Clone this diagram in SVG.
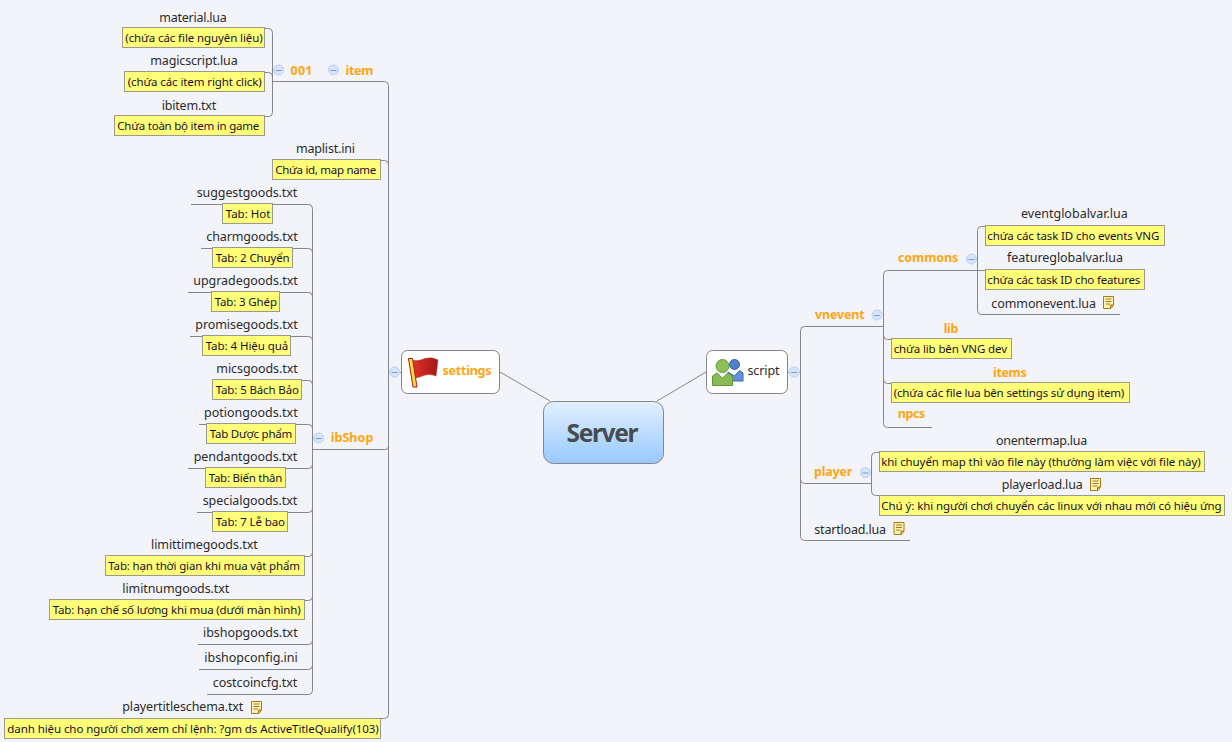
<svg xmlns="http://www.w3.org/2000/svg" width="1232" height="742" viewBox="0 0 1232 742">
<style>
text{font-family:"Noto Sans","Open Sans","Liberation Sans",sans-serif}
.l{font-size:12.500px;fill:#2b2b2b}
.o{font-size:12.500px;font-weight:700;fill:#ffa50f}
.n{font-size:11.500px;fill:#1a1030}
.b{fill:#ffff77;stroke:#9a9a8e;stroke-width:1}
.c{fill:none;stroke:#85858a;stroke-width:1}
.t{fill:#fff;stroke:#85858a;stroke-width:1}
</style>
<defs>
<linearGradient id="sg" x1="0" y1="0" x2="0" y2="1"><stop offset="0" stop-color="#e2f0ff"/><stop offset="1" stop-color="#97c9ff"/></linearGradient>
<linearGradient id="fl" x1="0" y1="0" x2="1" y2="0"><stop offset="0" stop-color="#e8382a"/><stop offset=".6" stop-color="#c02220"/><stop offset="1" stop-color="#a01a18"/></linearGradient>
<g id="cc"><circle r="5" fill="#d5e3fb" stroke="#bcd0f2"/><path d="M-3 .5H3" stroke="#7f9ccc" stroke-width="1"/></g>
<g id="doc"><path d="M.5 .5H10.500V9L8 12.500H.5Z" fill="#fff3b8" stroke="#a87a14"/><path d="M2.500 3H8.500M2.500 5.500H8.500M2.500 8H7" stroke="#a87a14"/><path d="M7.500 12.500V9H10.500" fill="#d8b040" stroke="#a87a14"/></g>
</defs>
<rect width="1232" height="742" fill="#f3f4fa"/>

<g id="connectors">
<path class="c" d="M500 372L550 401M706 372L657 401"/>
<path class="c" d="M273 81.500H384.500Q388.500 81.500 388.500 85.500V714.500Q388.500 718.500 384.500 718.500H380"/>
<path class="c" d="M380 160.500H384.500Q388.500 160.500 388.500 164.500"/>
<path class="c" d="M313 449.500H385.500Q388.500 449.500 388.500 446.500"/>
<path class="c" d="M388.500 372.500H401"/>
<path class="c" d="M264 28.500H268.500Q272.500 28.500 272.500 32.500V112.500Q272.500 116.500 268.500 116.500H264"/>
<path class="c" d="M264 72.500H268.500Q272.500 72.500 272.500 76.500"/>
<path class="c" d="M191 204.500H308.500Q312.500 204.500 312.500 208.500V690.500Q312.500 694.500 308.500 694.500H207"/>
<path class="c" d="M201 248.500H308.500Q312.500 248.500 312.500 252.500"/>
<path class="c" d="M188 292.500H308.500Q312.500 292.500 312.500 296.500"/>
<path class="c" d="M190 336.500H308.500Q312.500 336.500 312.500 340.500"/>
<path class="c" d="M213 380.500H308.500Q312.500 380.500 312.500 384.500"/>
<path class="c" d="M199 424.500H308.500Q312.500 424.500 312.500 428.500"/>
<path class="c" d="M188 468.500H308.500Q312.500 468.500 312.500 464.500"/>
<path class="c" d="M197 512.500H308.500Q312.500 512.500 312.500 508.500"/>
<path class="c" d="M300 556.500H308.500Q312.500 556.500 312.500 552.500"/>
<path class="c" d="M300 600.500H308.500Q312.500 600.500 312.500 596.500"/>
<path class="c" d="M198 644.500H308.500Q312.500 644.500 312.500 640.500"/>
<path class="c" d="M199 669.500H308.500Q312.500 669.500 312.500 665.500"/>
<path class="c" d="M788 372.500H800.500"/>
<path class="c" d="M883.500 326.500H804.500Q800.500 326.500 800.500 330.500V536.500Q800.500 540.500 804.500 540.500H910"/>
<path class="c" d="M800.500 479.500Q800.500 483.500 804.500 483.500H871.500"/>
<path class="c" d="M879.500 452.500H875.500Q871.500 452.500 871.500 456.500V491.500Q871.500 495.500 875.500 495.500H880"/>
<path class="c" d="M977.500 270.500H887.500Q883.500 270.500 883.500 274.500V423.500Q883.500 427.500 887.500 427.500H932"/>
<path class="c" d="M883.500 335.500Q883.500 339.500 887.500 339.500H892"/>
<path class="c" d="M883.500 379.500Q883.500 383.500 887.500 383.500H892"/>
<path class="c" d="M985.500 226.500H981.500Q977.500 226.500 977.500 230.500V310.500Q977.500 314.500 981.500 314.500H1120"/>
<path class="c" d="M977.500 270.500H986"/>
</g>

<g id="server"><rect x="543.500" y="401.500" width="120" height="62" rx="10" fill="url(#sg)" stroke="#85858a"/><text x="566.500" y="442" font-size="24.500" font-weight="700" fill="#484c50" textLength="72">Server</text></g>

<g id="settings"><rect class="t" x="401.500" y="350.500" width="98" height="43" rx="6"/><use href="#cc" x="394.500" y="372"/>
<path d="M409 359Q417 362.500 425 358.500Q432 356.500 438 360L436 376Q428 373 421 376.500Q416 379 412 377Z" fill="url(#fl)" stroke="#b03a38" stroke-width=".6"/>
<path d="M408.500 358.500L413 387H417L412.500 358.500Z" fill="#ffd83a" stroke="#a51f1a" stroke-width="1"/>
<text class="o" x="442.500" y="375" textLength="49">settings</text></g>

<g id="script"><rect class="t" x="706.500" y="350.500" width="81" height="43" rx="6"/><use href="#cc" x="794" y="372"/>
<circle cx="734.500" cy="364.500" r="5" fill="#4f7fc8" stroke="#3a62a8"/><path d="M728 372L734.500 376L739.500 370.500L743 373V381H728Z" fill="#5f92d8" stroke="#3f6ab0"/>
<circle cx="722.500" cy="366" r="6.500" fill="#8ec05a" stroke="#62993a"/><path d="M712.500 376L717 373L722.500 378L728 373L732.500 376V385.500H712.500Z" fill="#88bb58" stroke="#5f9638"/>
<text class="l" x="747.500" y="375" textLength="32">script</text></g>

<g id="item"><use href="#cc" x="333.500" y="70"/><text class="o" x="345.500" y="75" textLength="28">item</text></g>
<g id="n001"><use href="#cc" x="278.500" y="70"/><text class="o" x="290.500" y="75" textLength="22">001</text></g>
<g id="material"><text class="l" x="159.300" y="22" textLength="67.400">material.lua</text><rect class="b" x="122.500" y="27.500" width="142" height="20"/><text class="n" x="125.300" y="42" textLength="137.400">(chứa các file nguyên liệu)</text></g>
<g id="magicscript"><text class="l" x="150.300" y="65" textLength="87.400">magicscript.lua</text><rect class="b" x="124.500" y="71.500" width="140" height="20"/><text class="n" x="127.700" y="86" textLength="134">(chứa các item right click)</text></g>
<g id="ibitem"><text class="l" x="161.700" y="110" textLength="54.600">ibitem.txt</text><rect class="b" x="114.500" y="115.500" width="150" height="20"/><text class="n" x="117.300" y="130" textLength="142">Chứa toàn bộ item in game</text></g>
<g id="maplist"><text class="l" x="296" y="153" textLength="59">maplist.ini</text><rect class="b" x="272.500" y="159.500" width="108" height="20"/><text class="n" x="275.300" y="174" textLength="101">Chứa id, map name</text></g>

<g id="ibshop"><use href="#cc" x="318.500" y="438"/><text class="o" x="330.700" y="442" textLength="42.600">ibShop</text></g>
<g id="suggest"><text class="l" x="196.700" y="197" textLength="100.600">suggestgoods.txt</text><rect class="b" x="222.500" y="203.500" width="50" height="20"/><text class="n" x="225.700" y="218" textLength="44.600">Tab: Hot</text></g>
<g id="charm"><text class="l" x="206.300" y="241" textLength="91.400">charmgoods.txt</text><rect class="b" x="212.500" y="247.500" width="80" height="20"/><text class="n" x="215.700" y="262" textLength="74">Tab: 2 Chuyển</text></g>
<g id="upgrade"><text class="l" x="193.300" y="285" textLength="104.400">upgradegoods.txt</text><rect class="b" x="211.500" y="291.500" width="68" height="20"/><text class="n" x="214.700" y="306" textLength="62.300">Tab: 3 Ghép</text></g>
<g id="promise"><text class="l" x="195.300" y="329" textLength="102.400">promisegoods.txt</text><rect class="b" x="202.500" y="335.500" width="88" height="20"/><text class="n" x="205.700" y="350" textLength="82.600">Tab: 4 Hiệu quả</text></g>
<g id="mics"><text class="l" x="216.300" y="373" textLength="81.400">micsgoods.txt</text><rect class="b" x="212.500" y="379.500" width="89" height="20"/><text class="n" x="215.700" y="394" textLength="83.300">Tab: 5 Bách Bảo</text></g>
<g id="potion"><text class="l" x="204" y="417" textLength="93.700">potiongoods.txt</text><rect class="b" x="206.500" y="423.500" width="89" height="20"/><text class="n" x="209.700" y="438" textLength="82.600">Tab Dược phẩm</text></g>
<g id="pendant"><text class="l" x="193.700" y="461" textLength="103.600">pendantgoods.txt</text><rect class="b" x="205.500" y="467.500" width="80" height="20"/><text class="n" x="208.700" y="482" textLength="73.600">Tab: Biến thân</text></g>
<g id="special"><text class="l" x="202.700" y="505" textLength="94.600">specialgoods.txt</text><rect class="b" x="212.500" y="511.500" width="75" height="20"/><text class="n" x="215.700" y="526" textLength="69.300">Tab: 7 Lễ bao</text></g>
<g id="limittime"><text class="l" x="151" y="549" textLength="106.700">limittimegoods.txt</text><rect class="b" x="105.500" y="555.500" width="199" height="20"/><text class="n" x="108.300" y="570" textLength="191.700">Tab: hạn thời gian khi mua vật phẩm</text></g>
<g id="limitnum"><text class="l" x="122.300" y="593" textLength="107">limitnumgoods.txt</text><rect class="b" x="49.500" y="599.500" width="255" height="20"/><text class="n" x="52.700" y="614" textLength="248">Tab: hạn chế số lương khi mua (dưới màn hình)</text></g>
<g id="ibshopgoods"><text class="l" x="203" y="637" textLength="94.700">ibshopgoods.txt</text></g>
<g id="ibshopconfig"><text class="l" x="204.300" y="662" textLength="93.400">ibshopconfig.ini</text></g>
<g id="costcoincfg"><text class="l" x="212.700" y="687" textLength="84.600">costcoincfg.txt</text></g>
<g id="playertitle"><text class="l" x="122.300" y="711" textLength="121">playertitleschema.txt</text><use href="#doc" x="251" y="701"/><rect class="b" x="4.500" y="718.500" width="376" height="20"/><text class="n" x="7.300" y="733" textLength="371.400">danh hiệu cho người chơi xem chỉ lệnh: ?gm ds ActiveTitleQualify(103)</text></g>

<g id="vnevent"><text class="o" x="815" y="319" textLength="49.700">vnevent</text><use href="#cc" x="877" y="315"/></g>
<g id="commons"><text class="o" x="898" y="262" textLength="60.300">commons</text><use href="#cc" x="971.500" y="259"/></g>
<g id="eventglobalvar"><text class="l" x="1021" y="218" textLength="106.700">eventglobalvar.lua</text><rect class="b" x="985.500" y="225.500" width="179" height="20"/><text class="n" x="987.300" y="240" textLength="172">chứa các task ID cho events VNG</text></g>
<g id="featureglobalvar"><text class="l" x="1007" y="262" textLength="116">featureglobalvar.lua</text><rect class="b" x="985.500" y="269.500" width="159" height="20"/><text class="n" x="987.300" y="284" textLength="153">chứa các task ID cho features</text></g>
<g id="commonevent"><text class="l" x="991.300" y="308" textLength="104.700">commonevent.lua</text><use href="#doc" x="1103" y="296"/></g>
<g id="lib"><text class="o" x="943.700" y="333" textLength="14.600">lib</text><rect class="b" x="891.500" y="338.500" width="120" height="20"/><text class="n" x="893.700" y="353" textLength="113.300">chứa lib bên VNG dev</text></g>
<g id="items"><text class="o" x="993" y="377" textLength="33.700">items</text><rect class="b" x="891.500" y="382.500" width="238" height="20"/><text class="n" x="893.700" y="397" textLength="230.600">(chứa các file lua bên settings sử dụng item)</text></g>
<g id="npcs"><text class="o" x="897.700" y="418" textLength="27.600">npcs</text></g>
<g id="player"><text class="o" x="814" y="476" textLength="38.300">player</text><use href="#cc" x="865.500" y="472.500"/></g>
<g id="onentermap"><text class="l" x="996" y="445" textLength="91.300">onentermap.lua</text><rect class="b" x="879.500" y="451.500" width="325" height="20"/><text class="n" x="881.300" y="466" textLength="319.400">khi chuyển map thì vào file này (thường làm việc với file này)</text></g>
<g id="playerload"><text class="l" x="1001.700" y="489" textLength="81">playerload.lua</text><use href="#doc" x="1090" y="478"/><rect class="b" x="879.500" y="495.500" width="345" height="20"/><text class="n" x="881.300" y="510" textLength="340.400">Chú ý: khi người chơi chuyển các linux với nhau mới có hiệu ứng</text></g>
<g id="startload"><text class="l" x="814.300" y="534" textLength="71.700">startload.lua</text><use href="#doc" x="893.500" y="522"/></g>
</svg>
